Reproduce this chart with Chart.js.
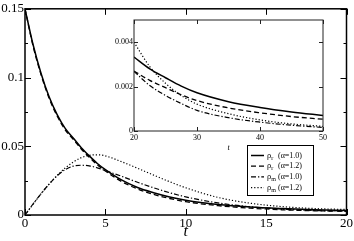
<!DOCTYPE html>
<html><head><meta charset="utf-8">
<script src="https://cdn.jsdelivr.net/npm/chart.js@4.4.0/dist/chart.umd.min.js"></script>
<style>
html,body{margin:0;padding:0;background:#fff;}
#wrap{position:relative;width:354px;height:241px;overflow:hidden;}
#main{position:absolute;left:0;top:0;}
#inset{position:absolute;left:100px;top:12px;}
</style></head><body>
<div id="wrap"><canvas id="main" width="354" height="241"></canvas><canvas id="inset" width="240" height="145"></canvas></div>
<script>
// ---- main panel data ----
const tMain   = [0,0.5,1,1.5,2,2.5,3,3.5,4,4.5,5,6,7,8,9,10,12,14,16,18,20];
const rhoR10  = [0.15,0.124,0.103,0.086,0.073,0.063,0.056,0.049,0.043,0.0375,0.033,0.0255,0.020,0.0162,0.0131,0.0107,0.0076,0.0058,0.0047,0.0039,0.0033];
const rhoR12  = [0.15,0.123,0.102,0.085,0.072,0.062,0.055,0.048,0.042,0.0365,0.032,0.0244,0.019,0.0150,0.0120,0.0097,0.0068,0.0050,0.0038,0.0031,0.0027];
const rhoM10  = [0,0.008,0.0155,0.0225,0.0285,0.033,0.0355,0.0362,0.0358,0.0343,0.0323,0.0282,0.0238,0.0198,0.0162,0.0132,0.0088,0.0060,0.0043,0.0033,0.0027];
const rhoM12  = [0,0.0078,0.0155,0.0225,0.0288,0.0342,0.0385,0.0417,0.0434,0.0438,0.0430,0.0388,0.034,0.029,0.0242,0.0198,0.0128,0.0086,0.0061,0.0047,0.0040];
const xTicksMain  = [0,5,10,15,20];
const xLabelsMain = ['0','5','10','15','20'];
const yTicksMain  = [0,0.05,0.1,0.15];
const yLabelsMain = ['0','0.05','0.1','0.15'];
const yMinorMain  = [0.025,0.075,0.125];
// ---- inset data ----
const tInset  = [20,22.5,25,27.5,30,35,40,45,50];
const inR10   = [0.00333,0.0028,0.00240,0.00202,0.00172,0.00132,0.00106,0.00086,0.00070];
const inR12   = [0.00270,0.00228,0.00195,0.00163,0.00137,0.00104,0.00082,0.00065,0.00053];
const inM10   = [0.00268,0.00205,0.00160,0.00124,0.00093,0.00060,0.00040,0.00026,0.00016];
const inM12   = [0.00400,0.0029,0.00215,0.00160,0.00121,0.00078,0.00050,0.00032,0.00021];
const xTicksInset  = [20,30,40,50];
const xLabelsInset = ['20','30','40','50'];
const yTicksInset  = [0,0.002,0.004];
const yLabelsInset = ['0','0.002','0.004'];
// ---- legend ----
const legendSub  = ['r','r','m','m'];
const legendText = ['(α=1.0)','(α=1.2)','(α=1.0)','(α=1.2)'];

const SERIF = "'Liberation Serif','DejaVu Serif',serif";
const styles = [
  {dash:[], w:1.5},
  {dash:[5,3], w:1.3},
  {dash:[5,2,1.3,2], w:1.2},
  {dash:[1.2,2], w:1.2}
];
function mk(xs, ys, i){
  return {data: xs.map((x,k)=>({x:x,y:ys[k]})), borderColor:'#000', borderWidth:styles[i].w,
    borderDash:styles[i].dash, pointRadius:0, fill:false, cubicInterpolationMode:'monotone'};
}
function frame(o){
  return {id:'frame',
    beforeDraw(chart){
      if(!o.fill) return;
      const a=chart.chartArea, c=chart.ctx;
      c.save(); c.fillStyle='#fff'; c.fillRect(a.left,a.top,a.right-a.left,a.bottom-a.top); c.restore();
    },
    afterDatasetsDraw(chart){
      const c=chart.ctx, a=chart.chartArea, x=chart.scales.x, y=chart.scales.y;
      c.save(); c.strokeStyle=o.color; c.lineWidth=o.lw; c.setLineDash([]);
      c.strokeRect(a.left,a.top,a.right-a.left,a.bottom-a.top);
      c.beginPath();
      o.xt.forEach(v=>{const p=Math.round(x.getPixelForValue(v))+0.5;
        c.moveTo(p,a.bottom); c.lineTo(p,a.bottom-o.L); c.moveTo(p,a.top); c.lineTo(p,a.top+o.L);});
      o.yt.forEach(v=>{const p=Math.round(y.getPixelForValue(v))+0.5;
        c.moveTo(a.left,p); c.lineTo(a.left+o.L,p); c.moveTo(a.right,p); c.lineTo(a.right-o.L,p);});
      (o.ym||[]).forEach(v=>{const p=Math.round(y.getPixelForValue(v))+0.5;
        c.moveTo(a.left,p); c.lineTo(a.left+o.l,p); c.moveTo(a.right,p); c.lineTo(a.right-o.l,p);});
      c.lineWidth=1; c.stroke(); c.restore();
    }};
}
const legendPlugin = {id:'lg', afterDraw(chart){
  const c=chart.ctx; c.save();
  const bx=247, by=145, bw=66, bh=50;
  c.fillStyle='#fff'; c.fillRect(bx,by,bw,bh);
  c.strokeStyle='#000'; c.lineWidth=1; c.strokeRect(bx+0.5,by+0.5,bw,bh);
  for(let i=0;i<4;i++){
    const yy = by+10.5+i*10.7;
    c.beginPath(); c.setLineDash(styles[i].dash); c.lineWidth=styles[i].w;
    c.moveTo(bx+4,yy); c.lineTo(bx+17,yy); c.stroke(); c.setLineDash([]);
    c.fillStyle='#000'; c.textBaseline='middle'; c.textAlign='left';
    c.font='8.5px '+SERIF; c.fillText('ρ',bx+20,yy);
    const w=c.measureText('ρ').width;
    c.font='6px '+SERIF; c.fillText(legendSub[i],bx+20+w,yy+2.5);
    c.font='8px '+SERIF; c.fillText(legendText[i],bx+31,yy);
  }
  c.restore();
}};
function setTicks(arr){return function(s){s.ticks=arr.map(v=>({value:v}));};}

new Chart(document.getElementById('main'),{
  type:'line',
  data:{datasets:[mk(tMain,rhoR10,0),mk(tMain,rhoR12,1),mk(tMain,rhoM10,2),mk(tMain,rhoM12,3)]},
  options:{responsive:false,animation:false,devicePixelRatio:1,
    layout:{padding:{left:0,right:7,top:5,bottom:0}},
    plugins:{legend:{display:false},tooltip:{enabled:false}},
    scales:{
      x:{type:'linear',min:0,max:20,afterBuildTicks:setTicks(xTicksMain),afterFit(s){s.height=26;},
        grid:{display:false,drawTicks:false},border:{display:false},
        ticks:{autoSkip:false,maxRotation:0,padding:1,color:'#000',font:{family:SERIF,size:13},
          callback:(v,i)=>xLabelsMain[i]},
        title:{display:true,text:'t',color:'#000',padding:{top:0,bottom:0},font:{family:SERIF,size:16,style:'italic'}}},
      y:{type:'linear',min:0,max:0.15,afterBuildTicks:setTicks(yTicksMain),afterFit(s){s.width=25;},
        grid:{display:false,drawTicks:false},border:{display:false},
        ticks:{autoSkip:false,padding:1,color:'#000',font:{family:SERIF,size:13},
          callback:(v,i)=>yLabelsMain[i]}}
    }},
  plugins:[frame({color:'#000',lw:1.5,xt:xTicksMain,yt:yTicksMain,ym:yMinorMain,L:6,l:3}),legendPlugin]
});

new Chart(document.getElementById('inset'),{
  type:'line',
  data:{datasets:[mk(tInset,inR10,0),mk(tInset,inR12,1),mk(tInset,inM10,2),mk(tInset,inM12,3)]},
  options:{responsive:false,animation:false,devicePixelRatio:1,
    layout:{padding:{left:0,right:17,top:8,bottom:0}},
    plugins:{legend:{display:false},tooltip:{enabled:false}},
    scales:{
      x:{type:'linear',min:20,max:50,afterBuildTicks:setTicks(xTicksInset),afterFit(s){s.height=26;},
        grid:{display:false,drawTicks:false},border:{display:false},
        ticks:{autoSkip:false,maxRotation:0,padding:2,color:'#000',font:{family:SERIF,size:8},
          callback:(v,i)=>xLabelsInset[i]},
        title:{display:true,text:'t',color:'#000',padding:{top:0,bottom:4},font:{family:SERIF,size:8,style:'italic'}}},
      y:{type:'linear',min:0,max:0.005,afterBuildTicks:setTicks(yTicksInset),afterFit(s){s.width=34;},
        grid:{display:false,drawTicks:false},border:{display:false},
        ticks:{autoSkip:false,padding:1,color:'#000',font:{family:SERIF,size:8},
          callback:(v,i)=>yLabelsInset[i]}}
    }},
  plugins:[frame({color:'#222',lw:1,xt:xTicksInset,yt:yTicksInset,L:4,l:2,fill:true})]
});
</script>
</body></html>
